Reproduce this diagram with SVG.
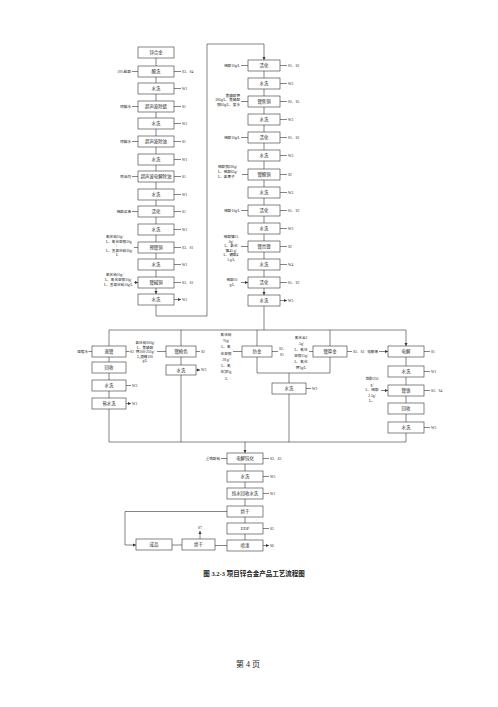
<svg xmlns="http://www.w3.org/2000/svg" width="498" height="707" viewBox="0 0 498 707">
<style>
.b{fill:#fff;stroke:#333;stroke-width:.6}
.c{fill:none;stroke:#333;stroke-width:.6}
.a{marker-end:url(#ah)}
text{font-family:"Liberation Serif","Noto Sans CJK SC",serif;fill:#222}
.t{font-size:4.4px;text-anchor:middle}
.l{font-size:3.6px}
.e{text-anchor:end}
.m{text-anchor:middle}
.cap{font-size:6.5px;font-weight:bold;text-anchor:middle}
.pg{font-size:8px;text-anchor:middle}
</style>
<defs>
<marker id="ah" viewBox="0 0 6 6" refX="6" refY="3" markerWidth="3.2" markerHeight="3.2" orient="auto" markerUnits="userSpaceOnUse"><path d="M0,0L6,3L0,6z" fill="#333"/></marker>
</defs>
<rect width="498" height="707" fill="#fff"/>

<g id="connectors">
<!-- left column -->
<path class="c a" d="M156,58V66M156,77V83M156,94V101M156,112V118M156,129V136M156,147V154M156,165V171M156,182V189M156,200V206M156,217V224M156,235V242M156,253V259M156,270V277M156,288V294"/>
<path class="c a" d="M156,305V316H207V44H264V60"/>
<path class="c a" d="M174,71.5H181M174,88.5H181M174,106.5H181M174,123.5H181M174,141.5H181M174,159.5H181M174,176.5H181M174,194.5H181M174,211.5H181M174,229.5H181M174,247.5H181M174,264.5H181M174,282.5H181M174,299.5H181"/>
<path class="c a" d="M132,71.5H138M132,106.5H138M132,141.5H138M132,176.5H138M132,211.5H138M134,247.5H138M134,282.5H138"/>
<!-- right column -->
<path class="c a" d="M264,71V78M264,89V96M264,107V114M264,125V132M264,143V150M264,161V169M264,180V187M264,198V205M264,216V223M264,234V241M264,252V259M264,270V277M264,288V295"/>
<path class="c" d="M264,306V330"/>
<path class="c a" d="M280,65.5H287M280,83.5H287M280,101.5H287M280,119.5H287M280,137.5H287M280,155.5H287M280,174.5H287M280,192.5H287M280,210.5H287M280,228.5H287M280,246.5H287M280,264.5H287M280,282.5H287M280,300.5H287"/>
<path class="c a" d="M241,65.5H248M241,101.5H248M241,137.5H248M242,174.5H248M241,210.5H248M241,246.5H248M241,282.5H248"/>
<!-- upper bus -->
<path class="c" d="M109,330H406"/>
<path class="c a" d="M109,330V346M181,330V346M257,330V346M330,330V346M406,330V346"/>
<!-- branch 1 -->
<path class="c a" d="M109,357V362M109,373V380M109,391V398M88.5,351.5H92M126,351.5H129.5M126,385.5H131M126,403.5H131"/>
<path class="c" d="M109,409V442"/>
<!-- branch 2 -->
<path class="c a" d="M181,357V365M157,351.5H166M196,351.5H200M196,370H200"/>
<path class="c" d="M181,375V442"/>
<!-- branch 3 and 4 -->
<path class="c" d="M257,357V373H330V357"/>
<path class="c a" d="M289,373V383M233,351.5H242M272,351.5H278M306,388.5H311M309,351.5H313M347,351.5H352M379,351.5H388"/>
<path class="c" d="M289,394V442"/>
<!-- branch 5 -->
<path class="c a" d="M406,357V366M406,377V385M406,396V403M406,414V422M424,351.5H430M424,371.5H430M424,390.5H430M424,427.5H430M381,390.5H388"/>
<path class="c" d="M406,433V442"/>
<!-- lower bus -->
<path class="c" d="M109,442H406"/>
<path class="c a" d="M245,442V453"/>
<!-- bottom column -->
<path class="c a" d="M245,464V471M245,482V488M245,499V506M245,517V523M245,534V540M221,458.5H227M263,458.5H269M263,476.5H269M263,493.5H269M263,528.5H269M263,545.5H269"/>
<path class="c a" d="M227,545.5H215M182,545H172M200,539V531"/>
<path class="c a" d="M227,511.5H125V545H136"/>
</g>

<g id="left-column">
<g id="n-l0"><rect class="b" x="138" y="47" width="36" height="11"/><text class="t" x="156" y="54.2">锌合金</text></g>
<g id="n-l1"><rect class="b" x="138" y="66" width="36" height="11"/><text class="t" x="156" y="73.2">酸洗</text><text class="l e" x="131" y="72.8">10%盐酸</text><text class="l" x="182" y="72.8">S3、S4</text></g>
<g id="n-l2"><rect class="b" x="138" y="83" width="36" height="11"/><text class="t" x="156" y="90.2">水洗</text><text class="l" x="182" y="89.8">W1</text></g>
<g id="n-l3"><rect class="b" x="138" y="101" width="36" height="11"/><text class="t" x="156" y="108.2">超声波除蜡</text><text class="l e" x="131" y="107.8">除蜡水</text><text class="l" x="182" y="107.8">S1</text></g>
<g id="n-l4"><rect class="b" x="138" y="118" width="36" height="11"/><text class="t" x="156" y="125.2">水洗</text><text class="l" x="182" y="124.8">W1</text></g>
<g id="n-l5"><rect class="b" x="138" y="136" width="36" height="11"/><text class="t" x="156" y="143.2">超声波除油</text><text class="l e" x="131" y="142.8">除蜡水</text><text class="l" x="182" y="142.8">S1</text></g>
<g id="n-l6"><rect class="b" x="138" y="154" width="36" height="11"/><text class="t" x="156" y="161.2">水洗</text><text class="l" x="182" y="160.8">W1</text></g>
<g id="n-l7"><rect class="b" x="138" y="171" width="36" height="11"/><text class="t" x="156" y="178.2">超声波电解除油</text><text class="l e" x="131" y="177.8">除油剂</text><text class="l" x="182" y="177.8">S1</text></g>
<g id="n-l8"><rect class="b" x="138" y="189" width="36" height="11"/><text class="t" x="156" y="196.2">水洗</text><text class="l" x="182" y="195.8">W1</text></g>
<g id="n-l9"><rect class="b" x="138" y="206" width="36" height="11"/><text class="t" x="156" y="213.2">活化</text><text class="l e" x="131" y="212.8">硫酸溶液</text><text class="l" x="182" y="212.8">S1</text></g>
<g id="n-l10"><rect class="b" x="138" y="224" width="36" height="11"/><text class="t" x="156" y="231.2">水洗</text><text class="l" x="182" y="230.8">W1</text></g>
<g id="n-l11"><rect class="b" x="138" y="242" width="36" height="11"/><text class="t" x="156" y="249.2">预镀铜</text>
<text class="l"><tspan x="106" y="238">氰化钠10g/</tspan><tspan x="106" y="242.5">L、氰化亚铜10g</tspan><tspan x="116" y="247">/</tspan><tspan x="106" y="251.5">L、氢氧化钠30g/</tspan><tspan x="116" y="256">L</tspan></text>
<text class="l" x="182" y="248.8">S3、S1</text></g>
<g id="n-l12"><rect class="b" x="138" y="259" width="36" height="11"/><text class="t" x="156" y="266.2">水洗</text><text class="l" x="182" y="265.8">W1</text></g>
<g id="n-l13"><rect class="b" x="138" y="277" width="36" height="11"/><text class="t" x="156" y="284.2">镀碱铜</text>
<text class="l"><tspan x="106" y="276">氰化钠10g/</tspan><tspan x="105" y="281">L、氰化亚铜10g/</tspan><tspan x="104" y="286">L、氢氧化钠10g/L</tspan></text>
<text class="l" x="182" y="283.8">S3、S1</text></g>
<g id="n-l14"><rect class="b" x="138" y="294" width="36" height="11"/><text class="t" x="156" y="301.2">水洗</text><text class="l" x="182" y="300.8">W1</text></g>
</g>

<g id="right-column">
<g id="n-r0"><rect class="b" x="248" y="60" width="32" height="11"/><text class="t" x="264" y="67.2">活化</text><text class="l e" x="240" y="66.8">硫酸10g/L</text><text class="l" x="288" y="66.8">S1、S2</text></g>
<g id="n-r1"><rect class="b" x="248" y="78" width="32" height="11"/><text class="t" x="264" y="85.2">水洗</text><text class="l" x="288" y="84.8">W2</text></g>
<g id="n-r2"><rect class="b" x="248" y="96" width="32" height="11"/><text class="t" x="264" y="103.2">镀焦铜</text>
<text class="l e"><tspan x="240" y="96.5">焦磷酸钾</tspan><tspan x="240" y="101">300g/L、焦磷酸</tspan><tspan x="240" y="105.5">铜60g/L、氨水</tspan></text>
<text class="l" x="288" y="102.8">S2、S5</text></g>
<g id="n-r3"><rect class="b" x="248" y="114" width="32" height="11"/><text class="t" x="264" y="121.2">水洗</text><text class="l" x="288" y="120.8">W3</text></g>
<g id="n-r4"><rect class="b" x="248" y="132" width="32" height="11"/><text class="t" x="264" y="139.2">活化</text><text class="l e" x="240" y="138.8">硫酸10g/L</text><text class="l" x="288" y="138.8">S1、S2</text></g>
<g id="n-r5"><rect class="b" x="248" y="150" width="32" height="11"/><text class="t" x="264" y="157.2">水洗</text><text class="l" x="288" y="156.8">W3</text></g>
<g id="n-r6"><rect class="b" x="248" y="169" width="32" height="11"/><text class="t" x="264" y="176.2">镀酸铜</text>
<text class="l"><tspan x="218" y="168">硫酸铜200g/</tspan><tspan x="218" y="173">L、硫酸65g/</tspan><tspan x="218" y="178">L、氯离子</tspan></text>
<text class="l" x="288" y="175.8">S2</text></g>
<g id="n-r7"><rect class="b" x="248" y="187" width="32" height="11"/><text class="t" x="264" y="194.2">水洗</text><text class="l" x="288" y="193.8">W3</text></g>
<g id="n-r8"><rect class="b" x="248" y="205" width="32" height="11"/><text class="t" x="264" y="212.2">活化</text><text class="l e" x="240" y="211.8">硫酸10g/L</text><text class="l" x="288" y="211.8">S1、S2</text></g>
<g id="n-r9"><rect class="b" x="248" y="223" width="32" height="11"/><text class="t" x="264" y="230.2">水洗</text><text class="l" x="288" y="229.8">W3</text></g>
<g id="n-r10"><rect class="b" x="248" y="241" width="32" height="11"/><text class="t" x="264" y="248.2">镀亮镍</text>
<text class="l m"><tspan x="231" y="238">硫酸镍25</tspan><tspan x="231" y="242.5">0g/</tspan><tspan x="231" y="247">L、氯化</tspan><tspan x="231" y="251.5">镍45 g/</tspan><tspan x="231" y="256">L、硼酸4</tspan><tspan x="231" y="260.5">5 g/L</tspan></text>
<text class="l" x="288" y="247.8">S2</text></g>
<g id="n-r11"><rect class="b" x="248" y="259" width="32" height="11"/><text class="t" x="264" y="266.2">水洗</text><text class="l" x="288" y="265.8">W4</text></g>
<g id="n-r12"><rect class="b" x="248" y="277" width="32" height="11"/><text class="t" x="264" y="284.2">活化</text>
<text class="l m"><tspan x="232" y="281">硫酸10</tspan><tspan x="232" y="286">g/L</tspan></text>
<text class="l" x="288" y="283.8">S1、S2</text></g>
<g id="n-r13"><rect class="b" x="248" y="295" width="32" height="11"/><text class="t" x="264" y="302.2">水洗</text><text class="l" x="288" y="301.8">W5</text></g>
</g>

<g id="branch-1">
<g id="n-b1a"><rect class="b" x="92" y="346" width="34" height="11"/><text class="t" x="109" y="353.2">退镀</text><text class="l e" x="88" y="352.8">退镀水</text><text class="l" x="130" y="352.8">S3</text></g>
<g id="n-b1b"><rect class="b" x="92" y="362" width="34" height="11"/><text class="t" x="109" y="369.2">回收</text></g>
<g id="n-b1c"><rect class="b" x="92" y="380" width="34" height="11"/><text class="t" x="109" y="387.2">水洗</text><text class="l" x="132" y="386.8">W3</text></g>
<g id="n-b1d"><rect class="b" x="92" y="398" width="34" height="11"/><text class="t" x="109" y="405.2">热水洗</text><text class="l" x="132" y="404.8">W1</text></g>
</g>

<g id="branch-2">
<g id="n-b2a"><rect class="b" x="166" y="346" width="30" height="11"/><text class="t" x="181" y="353.2">镀枪色</text>
<text class="l m"><tspan x="145" y="344">氯化钠300g/</tspan><tspan x="145" y="348.5">L、焦磷酸</tspan><tspan x="145" y="353">钾200-250g/</tspan><tspan x="145" y="357.5">L,酒精100</tspan><tspan x="145" y="362">g/L</tspan></text>
<text class="l" x="201" y="352.8">S2</text></g>
<g id="n-b2b"><rect class="b" x="166" y="365" width="30" height="10"/><text class="t" x="181" y="371.7">水洗</text><text class="l" x="201" y="371.3">W3</text></g>
</g>

<g id="branch-3">
<g id="n-b3a"><rect class="b" x="242" y="346" width="30" height="11"/><text class="t" x="257" y="353.2">仿金</text>
<text class="l m"><tspan x="226" y="336">氰化钠</tspan><tspan x="226" y="342">70g/</tspan><tspan x="226" y="348">L、氰</tspan><tspan x="226" y="354.5">化亚铜</tspan><tspan x="226" y="361">28 g/</tspan><tspan x="226" y="367">L、氰</tspan><tspan x="226" y="373">化锌5g</tspan><tspan x="226" y="379.5">/L</tspan></text>
<text class="l"><tspan x="279" y="350">S2、</tspan><tspan x="280" y="355.5">S1</tspan></text></g>
<g id="n-b3b"><rect class="b" x="272" y="383" width="34" height="11"/><text class="t" x="289" y="390.2">水洗</text><text class="l" x="312" y="389.8">W2</text></g>
</g>

<g id="branch-4">
<g id="n-b4a"><rect class="b" x="313" y="346" width="34" height="11"/><text class="t" x="330" y="353.2">镀厚金</text>
<text class="l m"><tspan x="301" y="339">氰化金2</tspan><tspan x="301" y="345">.5g/</tspan><tspan x="301" y="351">L、氰化</tspan><tspan x="301" y="357">亚铜15g/</tspan><tspan x="301" y="363">L、氰化</tspan><tspan x="301" y="369">钾5g/L</tspan></text>
<text class="l" x="353" y="352.8">S2、S3</text></g>
</g>

<g id="branch-5">
<g id="n-b5a"><rect class="b" x="388" y="346" width="36" height="11"/><text class="t" x="406" y="353.2">电解</text><text class="l e" x="378" y="352.8">电解液</text><text class="l" x="431" y="352.8">S1</text></g>
<g id="n-b5b"><rect class="b" x="388" y="366" width="36" height="11"/><text class="t" x="406" y="373.2">水洗</text><text class="l" x="431" y="372.8">W1</text></g>
<g id="n-b5c"><rect class="b" x="388" y="385" width="36" height="11"/><text class="t" x="406" y="392.2">镀铬</text>
<text class="l m"><tspan x="372" y="380">铬酐250</tspan><tspan x="372" y="385.5">g/</tspan><tspan x="372" y="391">L、硫酸</tspan><tspan x="372" y="396.5">2.5g/</tspan><tspan x="372" y="402">L。</tspan></text>
<text class="l" x="431" y="391.8">S2、S4</text></g>
<g id="n-b5d"><rect class="b" x="388" y="403" width="36" height="11"/><text class="t" x="406" y="410.2">回收</text></g>
<g id="n-b5e"><rect class="b" x="388" y="422" width="36" height="11"/><text class="t" x="406" y="429.2">水洗</text><text class="l" x="431" y="428.8">W5</text></g>
</g>

<g id="final">
<g id="n-f1"><rect class="b" x="227" y="453" width="36" height="11"/><text class="t" x="245" y="460.2">电解钝化</text><text class="l e" x="220" y="459.8">重铬酸钠</text><text class="l" x="270" y="459.8">S2、S3</text></g>
<g id="n-f2"><rect class="b" x="227" y="471" width="36" height="11"/><text class="t" x="245" y="478.2">水洗</text><text class="l" x="270" y="477.8">W5</text></g>
<g id="n-f3"><rect class="b" x="227" y="488" width="36" height="11"/><text class="t" x="245" y="495.2">纯水回收水洗</text><text class="l" x="270" y="494.8">W1</text></g>
<g id="n-f4"><rect class="b" x="227" y="506" width="36" height="11"/><text class="t" x="245" y="513.2">烘干</text></g>
<g id="n-f5"><rect class="b" x="227" y="523" width="36" height="11"/><text class="t" x="245" y="530.2">EDP</text><text class="l" x="270" y="529.8">S5</text></g>
<g id="n-f6"><rect class="b" x="227" y="540" width="36" height="11"/><text class="t" x="245" y="547.2">喷漆</text><text class="l" x="270" y="546.8">S6</text></g>
<g id="n-f7"><rect class="b" x="182" y="539" width="33" height="11"/><text class="t" x="198.5" y="546.2">烘干</text><text class="l m" x="200" y="528.5">S7</text></g>
<g id="n-f8"><rect class="b" x="136" y="539" width="36" height="11"/><text class="t" x="154" y="546.2">成品</text></g>
</g>

<text class="cap" x="254" y="576">图 3.2-3  项目锌合金产品工艺流程图</text>
<text class="pg" x="248" y="667">第 4 页</text>
</svg>
